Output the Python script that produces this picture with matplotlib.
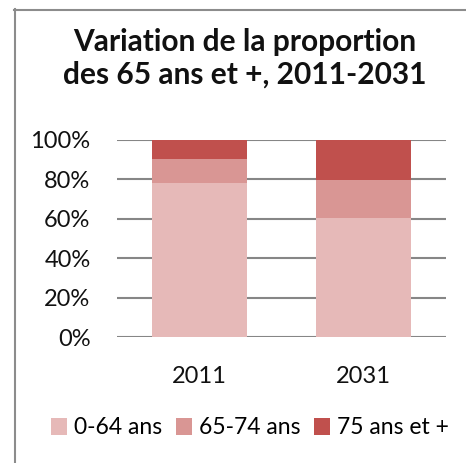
import matplotlib.pyplot as plt
from matplotlib.lines import Line2D

plt.rcParams['font.family'] = ['Lato', 'DejaVu Sans']

# data (shares in %)
years = ['2011', '2031']
age_0_64 = [78, 60.5]
age_65_74 = [12.4, 19.3]
age_75_plus = [9.6, 20.2]

series = [
    ('0-64 ans', age_0_64, '#E6B9B8'),
    ('65-74 ans', age_65_74, '#D99694'),
    ('75 ans et +', age_75_plus, '#C0504D'),
]

W, H = 466, 463
fig = plt.figure(figsize=(W / 100, H / 100), dpi=100)
fig.patch.set_facecolor('white')

# chart frame (only the top and left edges are visible in the crop)
fig.add_artist(Line2D([14.5 / W, 14.5 / W], [0, 1 - 9 / H], color='#8c8c8c', lw=1.5))
fig.add_artist(Line2D([14 / W, 1], [1 - 9.5 / H, 1 - 9.5 / H], color='#8c8c8c', lw=1.5))

ax = fig.add_axes([117 / W, (H - 337) / H, (446 - 117) / W, (337 - 140) / H])

x = range(len(years))
bottom = [0] * len(years)
for label, vals, color in series:
    ax.bar(x, vals, width=0.58, bottom=bottom, color=color, label=label, zorder=3)
    bottom = [b + v for b, v in zip(bottom, vals)]

ax.set_xlim(-0.5, 1.5)
ax.set_ylim(0, 100)
ax.set_yticks(range(0, 101, 20))
ax.set_yticklabels([f'{v}%' for v in range(0, 101, 20)])
ax.set_xticks(list(x))
ax.set_xticklabels(years)
ax.tick_params(axis='both', length=0, labelsize=17, colors='#111111')
ax.tick_params(axis='y', pad=19)
ax.tick_params(axis='x', pad=21)
ax.yaxis.grid(True, color='#868686', lw=1.5, zorder=0)
for s in ax.spines.values():
    s.set_visible(False)

fig.text(0.526, 1 - 58 / H, 'Variation de la proportion\ndes 65 ans et +, 2011-2031',
         ha='center', va='center', fontsize=21.5, fontweight='bold', linespacing=1.2,
         color='#111111')

fig.legend(loc='center', bbox_to_anchor=(0.536, 1 - 428 / H), ncol=3, frameon=False,
           fontsize=16.5, handlelength=0.7, handleheight=0.7, handletextpad=0.3,
           columnspacing=0.6, borderpad=0)

fig.savefig('out.png', dpi=100)
